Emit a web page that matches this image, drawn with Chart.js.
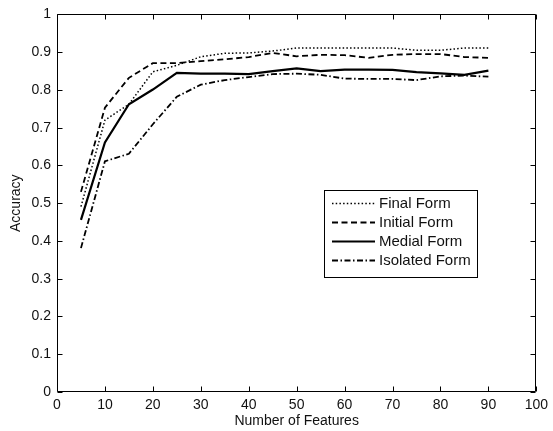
<!DOCTYPE html>
<html><head><meta charset="utf-8">
<script src="https://cdn.jsdelivr.net/npm/chart.js@4/dist/chart.umd.min.js"></script>
<style>html,body{margin:0;padding:0;background:#fff}#wrap{width:553px;height:431px;position:relative}</style>
</head><body><div id="wrap"><canvas id="c" width="553" height="431"></canvas></div>
<script>
const features = [5,10,15,20,25,30,35,40,45,50,55,60,65,70,75,80,85,90];
const finalForm    = [0.491,0.720,0.762,0.848,0.865,0.888,0.897,0.898,0.903,0.911,0.911,0.911,0.911,0.911,0.905,0.905,0.911,0.911];
const initialForm  = [0.530,0.753,0.832,0.871,0.871,0.876,0.881,0.887,0.898,0.889,0.893,0.892,0.885,0.893,0.895,0.895,0.887,0.885];
const medialForm   = [0.456,0.661,0.762,0.801,0.845,0.843,0.843,0.842,0.850,0.857,0.850,0.854,0.854,0.853,0.847,0.844,0.840,0.851];
const isolatedForm = [0.381,0.611,0.631,0.709,0.782,0.814,0.826,0.834,0.842,0.843,0.840,0.830,0.829,0.829,0.826,0.836,0.838,0.835];
const seriesNames = ['Final Form','Initial Form','Medial Form','Isolated Form'];
const xTicks = [0,10,20,30,40,50,60,70,80,90,100];
const xTickLabels = ['0','10','20','30','40','50','60','70','80','90','100'];
const yTicks = [0,0.1,0.2,0.3,0.4,0.5,0.6,0.7,0.8,0.9,1];
const yTickLabels = ['0','0.1','0.2','0.3','0.4','0.5','0.6','0.7','0.8','0.9','1'];
const xTitle = 'Number of Features';
const yTitle = 'Accuracy';

const styles = [
  {borderDash:[1.5,2.2], borderWidth:1.5},
  {borderDash:[6,3.5], borderWidth:1.8},
  {borderDash:[], borderWidth:2.2},
  {borderDash:[6,2.5,1.5,2.5], borderWidth:1.8}
];
const seriesValues = [finalForm, initialForm, medialForm, isolatedForm];
const datasets = seriesValues.map((vals,i)=>({
  label: seriesNames[i],
  data: features.map((f,j)=>({x:f,y:vals[j]})),
  borderColor:'#000', backgroundColor:'#000',
  borderDash: styles[i].borderDash, borderWidth: styles[i].borderWidth,
  pointRadius:0, tension:0, fill:false
}));

const TXT = '#111';
const FONT = "'Liberation Sans', Arial, sans-serif";

const framePlugin = {
  id:'frame',
  afterDatasetsDraw(chart){
    const {ctx, chartArea:a, scales:{x,y}} = chart;
    ctx.save();
    ctx.strokeStyle='#000'; ctx.lineWidth=1; ctx.setLineDash([]);
    const L=Math.round(a.left)+0.5, R=Math.round(a.right)-0.5, T=Math.round(a.top)+0.5, B=Math.round(a.bottom)-0.5;
    ctx.beginPath();
    ctx.rect(L,T,R-L,B-T);
    const tl=5;
    xTicks.forEach(v=>{
      const px=Math.round(x.getPixelForValue(v))+0.5;
      ctx.moveTo(px,B); ctx.lineTo(px,B-tl);
      ctx.moveTo(px,T); ctx.lineTo(px,T+tl);
    });
    yTicks.forEach(v=>{
      const py=Math.round(y.getPixelForValue(v))+0.5;
      ctx.moveTo(L,py); ctx.lineTo(L+tl,py);
      ctx.moveTo(R,py); ctx.lineTo(R-tl,py);
    });
    ctx.stroke();
    // legend box
    const bx=324.5, by=190.5, bw=153, bh=87;
    ctx.fillStyle='#fff';
    ctx.fillRect(bx,by,bw,bh);
    ctx.strokeRect(bx,by,bw,bh);
    const rowY=[203,222,241,260];
    ctx.font = "15px " + FONT;
    ctx.textBaseline='middle'; ctx.textAlign='left';
    chart.data.datasets.forEach((ds,i)=>{
      ctx.beginPath();
      ctx.setLineDash(ds.borderDash); ctx.lineWidth=ds.borderWidth;
      ctx.moveTo(332,rowY[i]+0.5); ctx.lineTo(375,rowY[i]+0.5);
      ctx.stroke();
      ctx.setLineDash([]);
      ctx.fillStyle=TXT;
      ctx.fillText(ds.label,379,rowY[i]+1);
    });
    ctx.restore();
  }
};

new Chart(document.getElementById('c'),{
  type:'line',
  data:{datasets},
  options:{
    responsive:false, animation:false, devicePixelRatio:1,
    layout:{padding:{top:11,right:11,left:0,bottom:0}},
    plugins:{legend:{display:false}, tooltip:{enabled:false}},
    scales:{
      x:{type:'linear', min:0, max:100,
        afterBuildTicks:s=>{s.ticks=xTicks.map(v=>({value:v}));},
        afterFit:s=>{s.height=39;},
        ticks:{autoSkip:false, maxRotation:0, padding:5, color:TXT, font:{family:FONT,size:14},
          callback:(v)=>xTickLabels[xTicks.indexOf(v)]},
        grid:{display:false, drawTicks:false}, border:{display:false},
        title:{display:true, text:xTitle, color:TXT, font:{family:FONT,size:14}, padding:{top:0,bottom:1}}
      },
      y:{type:'linear', min:0, max:1,
        afterBuildTicks:s=>{s.ticks=yTicks.map(v=>({value:v}));},
        afterFit:s=>{s.width=57;},
        ticks:{autoSkip:false, padding:6, color:TXT, font:{family:FONT,size:14},
          callback:(v)=>yTickLabels[yTicks.findIndex(t=>Math.abs(t-v)<1e-9)]},
        grid:{display:false, drawTicks:false}, border:{display:false},
        title:{display:true, text:yTitle, color:TXT, font:{family:FONT,size:14}, padding:{top:8,bottom:0}}
      }
    }
  },
  plugins:[framePlugin]
});
</script></body></html>
